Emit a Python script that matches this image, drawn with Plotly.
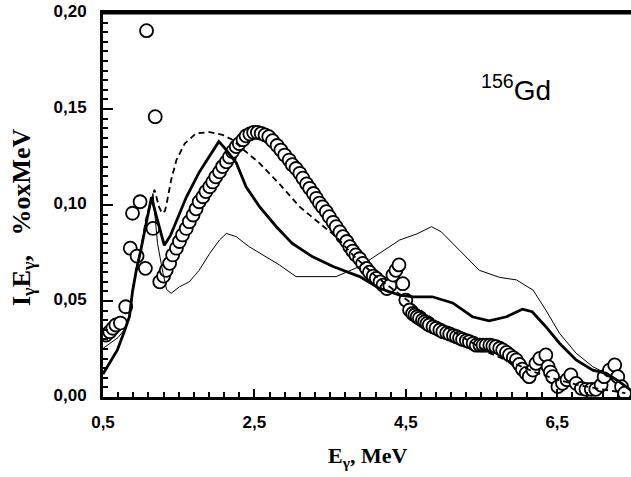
import plotly.graph_objects as go

# Experimental points (open circles)
exp_E = [0.54, 0.59, 0.63, 0.67, 0.73, 0.80, 0.86, 0.89, 0.95, 0.99, 1.06, 1.075, 1.16, 1.19,
         1.25, 1.30, 1.335, 1.38, 1.42, 1.47, 1.51, 1.55, 1.60, 1.64, 1.69, 1.73, 1.77, 1.82,
         1.86, 1.91, 1.95, 1.99, 2.04, 2.08, 2.13, 2.17, 2.21, 2.26, 2.30, 2.35, 2.39, 2.44,
         2.49, 2.54, 2.59, 2.64, 2.69, 2.74, 2.80, 2.85, 2.90, 2.96, 3.00, 3.05, 3.10, 3.14,
         3.19, 3.23, 3.28, 3.32, 3.36, 3.40, 3.45, 3.49, 3.54, 3.58, 3.63, 3.67, 3.72, 3.76,
         3.80, 3.84, 3.89, 3.93, 3.98, 4.02, 4.07, 4.11, 4.16, 4.20, 4.25, 4.29, 4.33, 4.37,
         4.41, 4.46, 4.50, 4.55, 4.59, 4.62, 4.65, 4.68, 4.72, 4.75, 4.78, 4.81, 4.86, 4.90,
         4.95, 4.99, 5.04, 5.08, 5.13, 5.17, 5.21, 5.25, 5.30, 5.34, 5.39, 5.43, 5.48, 5.52,
         5.56, 5.61, 5.65, 5.69, 5.74, 5.78, 5.83, 5.87, 5.92, 5.96, 6.00, 6.04, 6.09, 6.13,
         6.18, 6.22, 6.27, 6.35, 6.38, 6.41, 6.44, 6.51, 6.57, 6.63, 6.68, 6.75, 6.82, 6.88,
         6.95, 7.01, 7.08, 7.12, 7.19, 7.26, 7.30, 7.35, 7.39]
exp_I = [0.0323, 0.034, 0.0358, 0.0375, 0.0385, 0.047, 0.0775, 0.0957, 0.0734, 0.1017, 0.067, 0.1908, 0.0878, 0.146,
         0.060, 0.063, 0.066, 0.0696, 0.074, 0.0775, 0.081, 0.0844, 0.0878, 0.0913, 0.0948, 0.098, 0.1017, 0.1043,
         0.107, 0.1095, 0.112, 0.1147, 0.1173, 0.120, 0.1225, 0.125, 0.1278, 0.1304, 0.132, 0.134, 0.136, 0.137,
         0.1378, 0.1378, 0.1373, 0.1365, 0.1356, 0.1335, 0.131, 0.1286, 0.126, 0.1234, 0.121, 0.119, 0.1165, 0.114,
         0.111, 0.1087, 0.106, 0.1035, 0.101, 0.099, 0.0965, 0.0939, 0.091, 0.0887, 0.086, 0.0835, 0.081, 0.0783,
         0.076, 0.074, 0.072, 0.0696, 0.067, 0.065, 0.063, 0.0618, 0.060, 0.0583, 0.0565, 0.058, 0.0635, 0.066,
         0.0688, 0.059, 0.0505, 0.0453, 0.0435, 0.0427, 0.0418, 0.041, 0.040, 0.0392, 0.0383, 0.0375, 0.0366, 0.0358,
         0.0349, 0.034, 0.0334, 0.0328, 0.032, 0.0314, 0.0307, 0.030, 0.0294, 0.0288, 0.028, 0.027, 0.027, 0.027,
         0.027, 0.027, 0.0266, 0.0262, 0.0254, 0.0245, 0.0232, 0.0219, 0.0205, 0.0193, 0.017, 0.0145, 0.0123, 0.0106,
         0.014, 0.0175, 0.0201, 0.0219, 0.0158, 0.013, 0.0106, 0.0054, 0.0071, 0.009, 0.0115, 0.0071, 0.0045, 0.004,
         0.004, 0.004, 0.0062, 0.0106, 0.014, 0.0167, 0.0106, 0.0054, 0.002]

# Thick solid calculation
calcA_E = [0.5, 0.59, 0.69, 0.78, 0.85, 0.89, 0.94, 1.00, 1.07, 1.14, 1.22, 1.31, 1.39, 1.47, 1.60,
           1.77, 1.91, 2.03, 2.10, 2.26, 2.39, 2.57, 2.79, 3.00, 3.27, 3.54, 3.89, 4.15, 4.42, 4.60,
           4.85, 5.12, 5.38, 5.60, 5.83, 6.04, 6.17, 6.35, 6.53, 6.75, 6.97, 7.15, 7.32, 7.47]
calcA_I = [0.012, 0.018, 0.0245, 0.034, 0.042, 0.055, 0.066, 0.0766, 0.091, 0.104, 0.092, 0.079, 0.084, 0.092, 0.104,
           0.117, 0.126, 0.133, 0.130, 0.122, 0.1095, 0.099, 0.0887, 0.080, 0.073, 0.068, 0.0627, 0.0566, 0.053, 0.0522,
           0.0522, 0.049, 0.0418, 0.0397, 0.0418, 0.0457, 0.0444, 0.0366, 0.028, 0.0193, 0.014, 0.0123, 0.008, 0.0036]

# Dashed calculation
calcB_E = [0.5, 0.59, 0.69, 0.78, 0.85, 0.89, 0.94, 1.00, 1.07, 1.18, 1.24, 1.28, 1.32, 1.35, 1.40,
           1.47, 1.58, 1.73, 1.91, 2.08, 2.21, 2.35, 2.57, 2.83, 3.10, 3.36, 3.58, 3.80, 4.10, 4.40,
           4.70, 5.00, 5.30, 5.60, 5.90, 6.20, 6.50, 6.80, 7.10, 7.40]
calcB_I = [0.012, 0.018, 0.0245, 0.034, 0.042, 0.055, 0.066, 0.0766, 0.093, 0.108, 0.099, 0.0957, 0.097, 0.1026, 0.113,
           0.1234, 0.132, 0.1373, 0.138, 0.1365, 0.134, 0.129, 0.1217, 0.111, 0.099, 0.0905, 0.0835, 0.074, 0.063, 0.054,
           0.045, 0.037, 0.030, 0.023, 0.018, 0.013, 0.009, 0.006, 0.004, 0.002]

# Thin solid calculation
calcC_E = [0.5, 0.60, 0.70, 0.78, 0.85, 0.89, 0.94, 1.00, 1.07, 1.16, 1.22, 1.29, 1.34, 1.40, 1.51,
           1.64, 1.77, 1.91, 2.04, 2.13, 2.26, 2.43, 2.66, 2.83, 3.05, 3.36, 3.58, 3.89, 4.15, 4.42,
           4.65, 4.84, 4.97, 5.21, 5.47, 5.74, 5.96, 6.18, 6.35, 6.53, 6.75, 6.97, 7.10, 7.30, 7.47]
calcC_I = [0.0253, 0.028, 0.031, 0.035, 0.042, 0.055, 0.066, 0.0766, 0.091, 0.106, 0.080, 0.065, 0.056, 0.054, 0.0574,
           0.060, 0.066, 0.0748, 0.0818, 0.0852, 0.0835, 0.0783, 0.073, 0.0688, 0.0627, 0.0627, 0.0627, 0.068, 0.0748, 0.0818,
           0.085, 0.0887, 0.086, 0.0766, 0.066, 0.0623, 0.061, 0.0557, 0.0453, 0.0332, 0.0228, 0.0158, 0.0132, 0.008, 0.0036]

x_tickvals = [0.5, 2.5, 4.5, 6.5]
x_ticktext = ["0,5", "2,5", "4,5", "6,5"]
y_tickvals = [0.0, 0.05, 0.10, 0.15, 0.20]
y_ticktext = ["0,00", "0,05", "0,10", "0,15", "0,20"]

fig = go.Figure()
fig.add_trace(go.Scatter(x=exp_E, y=exp_I, mode="markers",
                         marker=dict(symbol="circle", size=13, color="white",
                                     line=dict(color="black", width=1.8))))
fig.add_trace(go.Scatter(x=calcC_E, y=calcC_I, mode="lines",
                         line=dict(color="black", width=1)))
fig.add_trace(go.Scatter(x=calcB_E, y=calcB_I, mode="lines",
                         line=dict(color="black", width=1.8, dash="6px,4px")))
fig.add_trace(go.Scatter(x=calcA_E, y=calcA_I, mode="lines",
                         line=dict(color="black", width=2.8)))

tickfont = dict(family="Liberation Sans, Arial", size=17, color="black", weight="bold")

fig.update_layout(
    width=631, height=477,
    margin=dict(l=103, r=0, t=13, b=80, autoexpand=False),
    plot_bgcolor="white", paper_bgcolor="white",
    showlegend=False,
    xaxis=dict(range=[0.5, 7.475], tickvals=x_tickvals, ticktext=x_ticktext, automargin=False,
               ticks="inside", ticklen=8, tickwidth=2, tickcolor="black",
               showline=True, linewidth=3, linecolor="black", mirror=True,
               showgrid=False, zeroline=False, tickfont=tickfont, ticklabelstandoff=8,
               ticklabeloverflow="allow",
               minor=dict(tick0=0.5, dtick=0.2, ticks="inside", ticklen=5, tickwidth=1.5,
                          tickcolor="black", showgrid=False)),
    yaxis=dict(range=[0, 0.2], tickvals=y_tickvals, ticktext=y_ticktext, automargin=False,
               ticks="inside", ticklen=10, tickwidth=2, tickcolor="black",
               showline=True, linewidth=3, linecolor="black",
               showgrid=False, zeroline=False, tickfont=tickfont, ticklabelstandoff=10,
               ticklabeloverflow="allow", ticklabelshift=-2,
               minor=dict(tick0=0, dtick=0.005, ticks="inside", ticklen=5, tickwidth=1.5,
                          tickcolor="black", showgrid=False)),
    shapes=[
        dict(type="line", xref="paper", yref="paper", x0=0, x1=1, y0=1, y1=1,
             line=dict(color="black", width=3), layer="above"),
    ],
    annotations=[
        dict(text="<b>E<sub>γ</sub>, MeV</b>", xref="paper", yref="paper", x=0.5, y=(397 - 457) / 384,
             xanchor="center", yanchor="middle", showarrow=False,
             font=dict(family="Liberation Serif, Times New Roman", size=22, color="black")),
        dict(text="<b>I<sub>γ</sub>E<sub>γ</sub>,\u00a0\u00a0\u00a0%oxMeV</b>", xref="paper", yref="paper",
             x=0, xshift=-80, y=(397 - 217) / 384, textangle=-90,
             xanchor="center", yanchor="middle", showarrow=False,
             font=dict(family="Liberation Serif, Times New Roman", size=26, color="black")),
        dict(text="<sup>156</sup>Gd", xref="x", yref="y", x=5.96, y=0.161,
             xanchor="center", yanchor="middle", showarrow=False,
             font=dict(family="Liberation Sans, Arial", size=28, color="black")),
    ],
)

# Remove the browser's default 8 px body margin so the figure fills the window exactly.
fig.write_html("out.html", config={"displayModeBar": False},
               post_script="document.body.style.margin='0px';")
